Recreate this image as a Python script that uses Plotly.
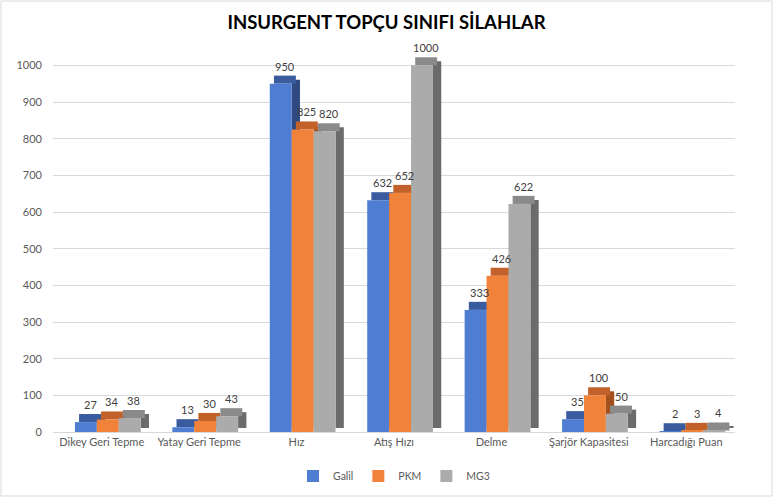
import plotly.graph_objects as go

categories = ["Dikey Geri Tepme", "Yatay Geri Tepme", "Hız", "Atış Hızı", "Delme",
              "Şarjör Kapasitesi", "Harcadığı Puan"]
galil = [27, 13, 950, 632, 333, 35, 2]
pkm = [34, 30, 825, 652, 426, 100, 3]
mg3 = [38, 43, 820, 1000, 622, 50, 4]

# name, values, front colour, top colour, side colour
series = [
    ("Galil", galil, "#4F7DD2", "#3A5C9E", "#2E4A80"),
    ("PKM", pkm, "#F0823A", "#C2622A", "#A3501D"),
    ("MG3", mg3, "#ABABAB", "#8A8A8A", "#6B6B6B"),
]

bar_w = 0.225
depth_x = 0.085
depth_y = 22
start = -0.275

fig = go.Figure()
for i, (name, vals, col, top, side) in enumerate(series):
    off = start + i * bar_w
    fig.add_trace(go.Bar(
        x=categories, y=vals, base=[depth_y / 2] * len(vals), offset=off + bar_w,
        width=depth_x, marker=dict(color=side, line=dict(width=0)),
        showlegend=False, hoverinfo="skip"))
    fig.add_trace(go.Bar(
        x=categories, y=[depth_y] * len(vals), base=vals, offset=off + depth_x / 2,
        width=bar_w, marker=dict(color=top, line=dict(width=0)),
        showlegend=False, hoverinfo="skip"))
    fig.add_trace(go.Bar(
        x=categories, y=vals, name=name, offset=off, width=bar_w,
        marker=dict(color=col, line=dict(width=0)), hoverinfo="y"))
    for c_idx, v in enumerate(vals):
        fig.add_annotation(
            x=c_idx + off + bar_w / 2 + depth_x / 2, y=v + depth_y, text=str(v),
            showarrow=False, yanchor="bottom", yshift=1, xref="x", yref="y",
            font=dict(size=11, color="#404040", family="Lato"))

fig.update_layout(
    width=773, height=497,
    barmode="overlay",
    paper_bgcolor="white", plot_bgcolor="white",
    margin=dict(l=53, r=38, t=47, b=65, autoexpand=False),
    title=dict(text="<b>INSURGENT TOPÇU SINIFI SİLAHLAR</b>", x=0.5, xanchor="center",
               y=1 - 23 / 497, yanchor="middle",
               font=dict(size=18.5, color="#000000", family="Lato")),
    font=dict(family="Lato", color="#595959", size=11),
    legend=dict(orientation="h", x=0.5, xanchor="center", y=-44 / 385, yanchor="middle",
                font=dict(size=10.5, color="#595959"), traceorder="normal",
                itemwidth=30),
    showlegend=True,
)
fig.update_xaxes(type="category", showgrid=False, showline=True, linecolor="#D9D9D9",
                 ticks="", tickfont=dict(size=11, color="#595959"), range=[-0.5, 6.5])
fig.update_yaxes(range=[0, 1050], dtick=100, tick0=0, showgrid=True, gridcolor="#D9D9D9",
                 zeroline=False, showline=False, ticks="",
                 tickfont=dict(size=11, color="#595959"), ticklabelstandoff=10)
fig.add_shape(type="rect", xref="paper", yref="paper",
              x0=-52 / 682, x1=1 + 37 / 682, y0=-64 / 385, y1=1 + 46 / 385,
              line=dict(color="#D9D9D9", width=1), fillcolor="rgba(0,0,0,0)")
fig.write_html("out.html", config={"displayModeBar": False},
               post_script="document.body.style.margin='0';document.body.style.overflow='hidden';")
